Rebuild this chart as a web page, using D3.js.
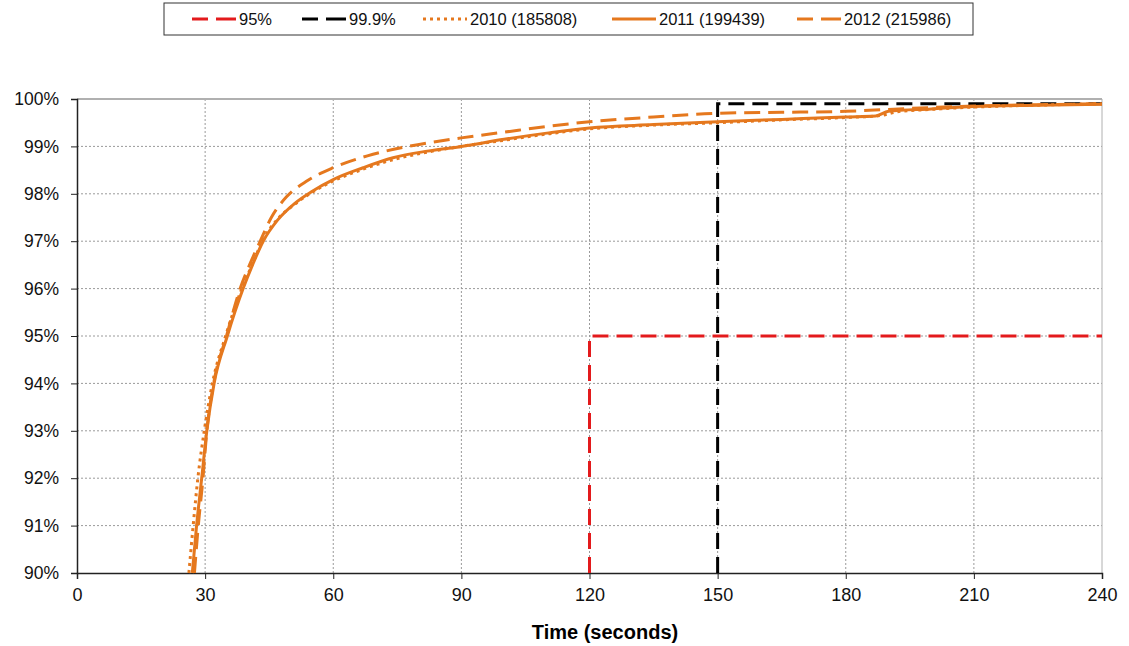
<!DOCTYPE html>
<html>
<head>
<meta charset="utf-8">
<script src="https://cdn.jsdelivr.net/npm/d3@7"></script>
<style>
  body { margin: 0; background: #fff; }
  text { font-family: "Liberation Sans", Arial, sans-serif; }
</style>
</head>
<body>
<div id="chart"></div>
<script>
// tick values
var xTicks = [0, 30, 60, 90, 120, 150, 180, 210, 240];
var yTicks = [90, 91, 92, 93, 94, 95, 96, 97, 98, 99, 100];

// series: [seconds, percent]
var s2010 = [[26.2,90],[27.2,91],[28.3,92],[29.8,93],[31.7,94],[34.8,95],[38.6,96],[41,96.5],[43.4,97],[46.8,97.45],[51,97.78],[55,98.03],[60,98.27],[67,98.52],[74,98.72],[82,98.88],[90,99.0],[100,99.13],[110,99.26],[120,99.37],[135,99.45],[150,99.5],[165,99.56],[180,99.61],[188,99.65],[192,99.73],[200,99.78],[210,99.83],[225,99.87],[240,99.9]];
var s2011 = [[27,90],[28,91],[29.2,92],[30.4,93],[32.1,94],[35.2,95],[38.9,96],[41.1,96.5],[43.6,97],[47,97.45],[51,97.8],[55,98.05],[60,98.3],[67,98.55],[74,98.76],[82,98.9],[90,99.0],[100,99.15],[110,99.28],[120,99.39],[135,99.46],[150,99.52],[165,99.57],[180,99.62],[187,99.64],[190,99.74],[200,99.79],[210,99.84],[225,99.87],[240,99.89]];
var s2012 = [[27.5,90],[28.4,91],[29.5,92],[30.4,93],[32,94],[35,95],[38.2,96],[40.4,96.5],[42.9,97],[45.5,97.5],[49,97.93],[54,98.28],[60,98.55],[68,98.8],[77.5,99.0],[90,99.18],[100,99.3],[110,99.42],[120,99.52],[135,99.62],[150,99.7],[165,99.72],[180,99.74],[190,99.78],[200,99.82],[210,99.85],[225,99.88],[240,99.9]];
var ref95 = [[120,90],[120,95],[240,95]];
var ref999 = [[150,90],[150,99.9],[240,99.9]];

var legendNames = ['95%', '99.9%', '2010 (185808)', '2011 (199439)', '2012 (215986)'];

var W = 1129, H = 646,
    orange = '#E5781E';

var svg = d3.select('#chart').append('svg')
  .attr('width', W).attr('height', H);

var x = d3.scaleLinear().domain([0, 240]).range([77, 1102]);
var y = d3.scaleLinear().domain([90, 100]).range([573, 99]);

// grid
svg.append('g').selectAll('line').data(yTicks.slice(1, -1)).enter().append('line')
  .attr('x1', x(0)).attr('x2', x(240))
  .attr('y1', function(d){ return y(d); }).attr('y2', function(d){ return y(d); })
  .style('stroke', '#9a9a9a').style('stroke-width', 1).style('stroke-dasharray', '2,2');
svg.append('g').selectAll('line').data(xTicks.slice(1, -1)).enter().append('line')
  .attr('y1', y(90)).attr('y2', y(100))
  .attr('x1', function(d){ return x(d); }).attr('x2', function(d){ return x(d); })
  .style('stroke', '#9a9a9a').style('stroke-width', 1).style('stroke-dasharray', '2,2');

// top & right border
svg.append('line').attr('x1', x(0)).attr('x2', x(240)).attr('y1', y(100)).attr('y2', y(100))
  .style('stroke', '#b0b0b0').style('stroke-width', 2);
svg.append('line').attr('x1', x(240)).attr('x2', x(240)).attr('y1', y(100)).attr('y2', y(90))
  .style('stroke', '#b0b0b0').style('stroke-width', 1);

// axes
var yAxis = svg.append('g').attr('transform', 'translate(' + x(0) + ',0)')
  .call(d3.axisLeft(y).tickValues(yTicks).tickFormat(function(d){ return d + '%'; }).tickSize(6).tickPadding(12));
var xAxis = svg.append('g').attr('transform', 'translate(0,' + y(90) + ')')
  .call(d3.axisBottom(x).tickValues(xTicks).tickSize(6).tickPadding(9));
[yAxis, xAxis].forEach(function(a){
  a.select('.domain').style('stroke', '#222').style('stroke-width', 1.5);
  a.selectAll('.tick line').style('stroke', '#222');
  a.selectAll('text').style('fill', '#111')
    .style('font-family', '"Liberation Sans", Arial, sans-serif');
});
yAxis.selectAll('text').style('font-size', '17.5px');
xAxis.selectAll('text').style('font-size', '18px');

svg.append('text').attr('x', 605).attr('y', 639).attr('text-anchor', 'middle')
  .style('font-size', '20px').style('font-weight', 'bold').text('Time (seconds)');

var line = d3.line().x(function(d){ return x(d[0]); }).y(function(d){ return y(d[1]); });
var lineC = d3.line().x(function(d){ return x(d[0]); }).y(function(d){ return y(d[1]); })
  .curve(d3.curveMonotoneX);

var styles = [
  { data: ref95, color: '#E31A1C', dash: '16,8', w: 3, gen: line },
  { data: ref999, color: '#000', dash: '16,8', w: 3, gen: line },
  { data: s2010, color: orange, dash: '3,4', w: 3, gen: lineC },
  { data: s2011, color: orange, dash: null, w: 3, gen: lineC },
  { data: s2012, color: orange, dash: '16,8', w: 3, gen: lineC }
];

svg.append('g').selectAll('path').data(styles).enter().append('path')
  .attr('d', function(d){ return d.gen(d.data); })
  .style('fill', 'none')
  .style('stroke', function(d){ return d.color; })
  .style('stroke-width', function(d){ return d.w; })
  .style('stroke-dasharray', function(d){ return d.dash; });

// legend
svg.append('rect').attr('x', 164).attr('y', 3).attr('width', 809).attr('height', 32)
  .style('fill', '#fff').style('stroke', '#333').style('stroke-width', 1);
var legX = [192, 302, 423, 612, 797];
var leg = svg.append('g').selectAll('g').data(styles).enter().append('g')
  .attr('transform', function(d, i){ return 'translate(' + legX[i] + ',19)'; });
leg.append('line').attr('x1', 0).attr('x2', 44)
  .style('stroke', function(d){ return d.color; })
  .style('stroke-width', 3)
  .style('stroke-dasharray', function(d){ return d.dash == '16,8' ? '16,8,20' : d.dash; });
leg.append('text').attr('x', 47).attr('y', 6)
  .style('font-size', '16.5px').style('fill', '#111')
  .text(function(d, i){ return legendNames[i]; });
</script>
</body>
</html>
